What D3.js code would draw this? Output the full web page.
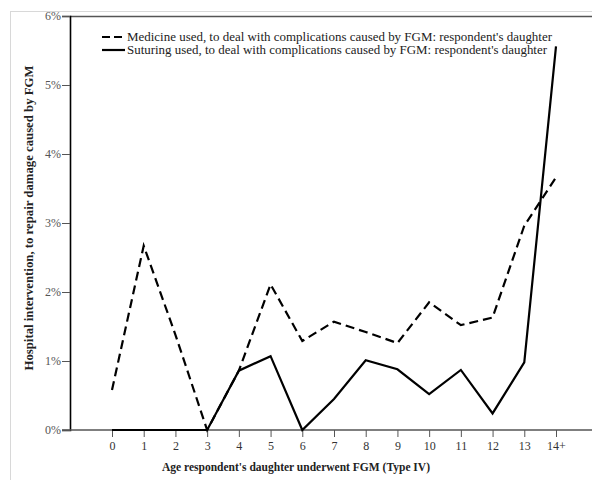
<!DOCTYPE html>
<html><head><meta charset="utf-8">
<script src="https://cdn.jsdelivr.net/npm/d3@7"></script>
<style>body{margin:0;background:#fff}svg{display:block}</style>
</head><body><svg id="c" width="592" height="480"></svg>
<script>
const categories = ["0","1","2","3","4","5","6","7","8","9","10","11","12","13","14+"];
const medicine = [0.58,2.67,1.38,0.0,0.86,2.11,1.29,1.57,1.42,1.26,1.85,1.52,1.63,2.96,3.66];
const suturing = [0.0,0.0,0.0,0.0,0.86,1.07,0.0,0.45,1.01,0.88,0.52,0.87,0.24,0.98,5.56];
const yTicks = [0,1,2,3,4,5,6];
const legendLabels = ["Medicine used, to deal with complications caused by FGM: respondent's daughter",
  "Suturing used, to deal with complications caused by FGM: respondent's daughter"];
const xTitle = "Age respondent's daughter underwent FGM (Type IV)";
const yTitle = "Hospital intervention, to repair damage caused by FGM";

const svg = d3.select("#c");
const font = "'Liberation Serif', 'DejaVu Serif', serif";
const mLeft = 70, mRight = 592, mTop = 16, mBottom = 430;

// outer frame (light grey)
svg.append("line").attr("x1",10).attr("x2",592).attr("y1",11.5).attr("y2",11.5).attr("stroke","#d8d8d8");
svg.append("line").attr("x1",10.5).attr("x2",10.5).attr("y1",11).attr("y2",480).attr("stroke","#d8d8d8");

const x = d3.scalePoint().domain(categories).range([112,556]);
const y = d3.scaleLinear().domain([0,6]).range([mBottom, mTop]);

// top border
svg.append("line").attr("x1",mLeft).attr("x2",mRight).attr("y1",mTop+0.5).attr("y2",mTop+0.5).attr("stroke","#555").attr("stroke-width",1.5);

// y axis
const ya = svg.append("g").attr("transform",`translate(${mLeft},0)`)
  .call(d3.axisLeft(y).tickValues(yTicks).tickFormat(d=>d+"%").tickSizeOuter(0).tickSize(8).tickPadding(1));
ya.select(".domain").attr("stroke","#000").attr("stroke-width",1.6);
ya.selectAll(".tick line").attr("stroke","#555");
ya.selectAll("text").attr("font-family",font).attr("font-size",12).attr("fill","#555");

// x axis
const xa = svg.append("g").attr("transform",`translate(0,${mBottom})`)
  .call(d3.axisBottom(x).tickSize(7).tickSizeOuter(0).tickPadding(4));
xa.select(".domain").remove();
xa.insert("line",":first-child").attr("x1",mLeft-8).attr("x2",mRight).attr("y1",0).attr("y2",0).attr("stroke","#555").attr("stroke-width",1.5);
xa.selectAll(".tick line").attr("stroke","#555");
xa.selectAll("text").attr("font-family",font).attr("font-size",12).attr("fill","#333");

// lines
const line = d3.line().x((d,i)=>x(categories[i])).y(d=>y(d));
svg.append("path").datum(medicine).attr("d",line).attr("fill","none").attr("stroke","#000")
  .attr("stroke-width",2.2).attr("stroke-dasharray","9,5");
svg.append("path").datum(suturing).attr("d",line).attr("fill","none").attr("stroke","#000")
  .attr("stroke-width",2.2);

// legend
const lg = svg.append("g");
[0,1].forEach(i=>{
  const yy = 37 + i*13;
  lg.append("line").attr("x1",102).attr("x2",125).attr("y1",yy).attr("y2",yy)
    .attr("stroke","#000").attr("stroke-width",2.2).attr("stroke-dasharray", i===0 ? "8,4" : null);
  lg.append("text").attr("x",127).attr("y",yy+4).text(legendLabels[i])
    .attr("font-family",font).attr("font-size",12.5).attr("fill","#222")
    .attr("textLength", i===0 ? 425 : 420).attr("lengthAdjust","spacingAndGlyphs");
});

// titles
svg.append("text").attr("x",296).attr("y",471).attr("text-anchor","middle")
  .attr("font-family",font).attr("font-size",12.5).attr("font-weight","bold").attr("fill","#222")
  .attr("textLength",268).attr("lengthAdjust","spacingAndGlyphs").text(xTitle);
svg.append("text").attr("transform","translate(33,218) rotate(-90)").attr("text-anchor","middle")
  .attr("font-family",font).attr("font-size",12.5).attr("font-weight","bold").attr("fill","#222")
  .attr("textLength",305).attr("lengthAdjust","spacingAndGlyphs").text(yTitle);
</script></body></html>
